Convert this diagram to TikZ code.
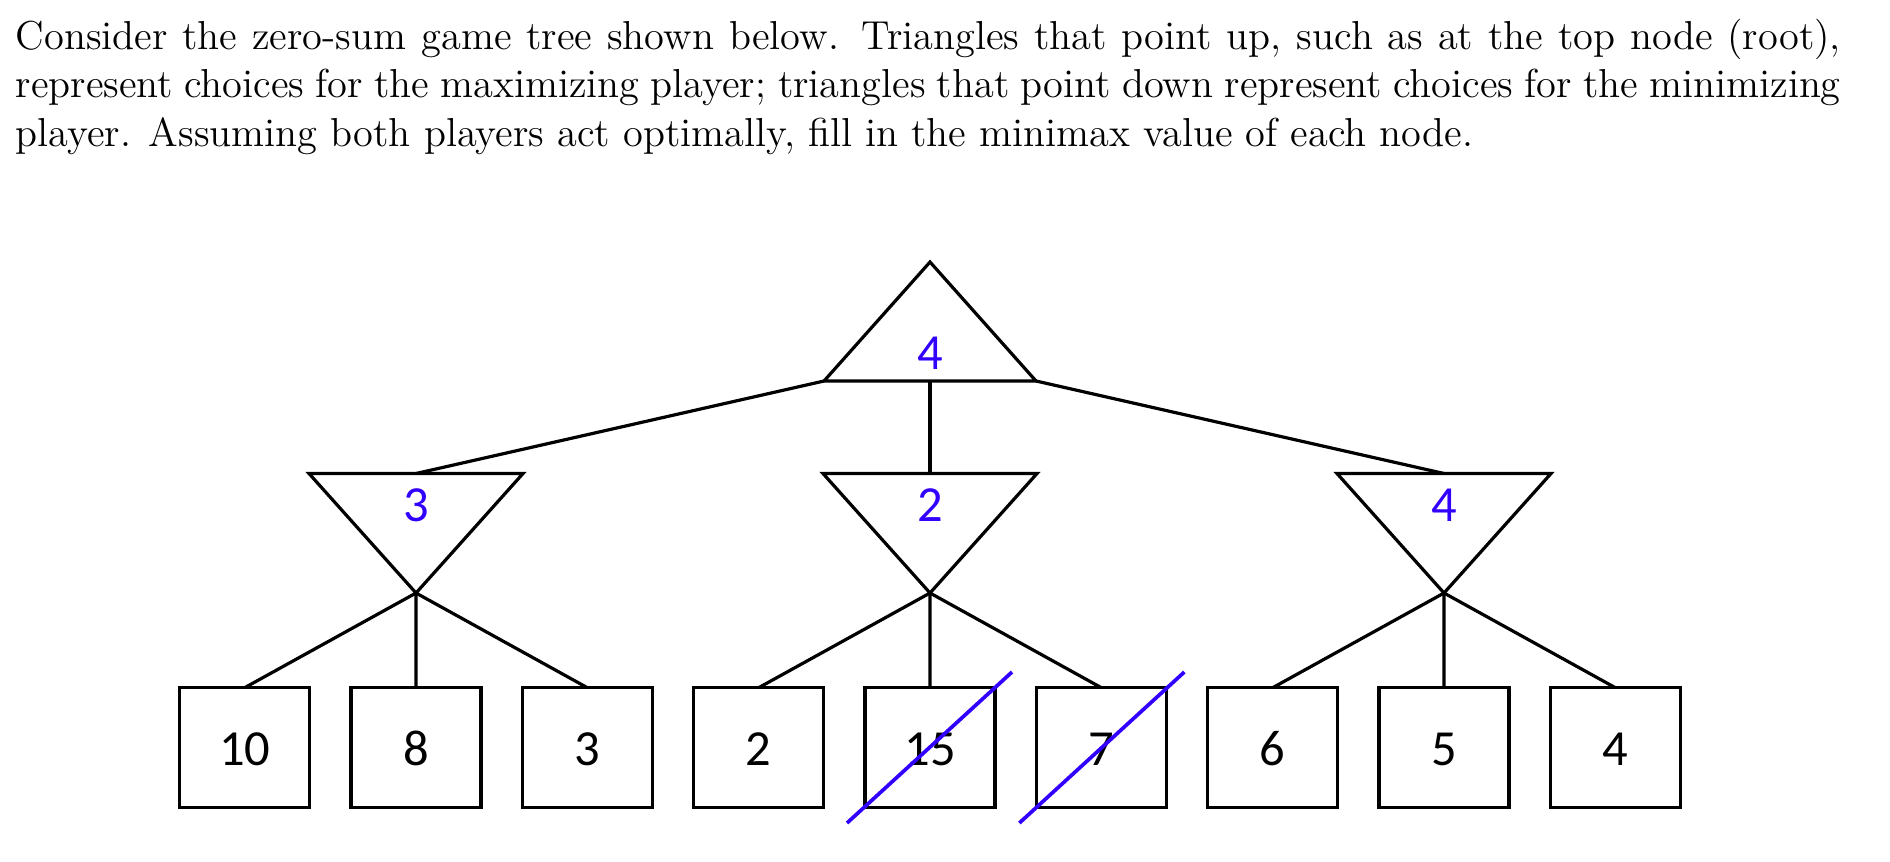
\documentclass[tikz,border=0pt]{standalone}
\usepackage{fontspec}
\newfontfamily\treefont{Carlito}
\usetikzlibrary{calc}
\definecolor{ansblue}{RGB}{50,0,255}
\tikzset{
  treeline/.style={line width=0.95pt, black, line join=miter},
  leafbox/.style={draw, treeline, minimum width=38.6pt, minimum height=35.5pt, inner sep=0pt, outer sep=0pt},
  leaftext/.style={font=\treefont\fontsize{15}{17}\selectfont, anchor=base, inner sep=0pt},
  valtext/.style={font=\treefont\fontsize{15}{17}\selectfont, anchor=base, inner sep=0pt, text=ansblue},
  crossline/.style={draw=ansblue, line width=1.1pt},
  prose/.style={font=\fontsize{12}{14.5}\selectfont, anchor=base west, inner sep=0pt}
}
\begin{document}
\begin{tikzpicture}[x=0.2968pt, y=-0.2968pt]
\useasboundingbox (0,0) rectangle (1890,861);
% question text
\node[prose] (l1) at (15,49) {\makebox[541.7pt][s]{Consider the zero-sum game tree shown below. Triangles that point up, such as at the top node (root),}};
\node[prose] (l2) at (15,97.7) {\makebox[541.7pt][s]{represent choices for the maximizing player; triangles that point down represent choices for the minimizing}};
\node[prose] (l3) at (15,146.6) {player. Assuming both players act optimally, fill in the minimax value of each node.};
% root (max) triangle
\coordinate (rA) at (930,262);
\coordinate (rL) at (824,381);
\coordinate (rR) at (1036,381);
\coordinate (rB) at (930,381);
\draw[treeline] (rA) -- (rR) -- (rL) -- cycle;
\node[valtext] (rv) at (930,369) {4};
% min triangles
\foreach \n/\x in {1/416, 2/930, 3/1444} {
  \coordinate (m\n L) at (\x-107,473.5);
  \coordinate (m\n R) at (\x+107,473.5);
  \coordinate (m\n T) at (\x,473.5);
  \coordinate (m\n B) at (\x,593);
  \draw[treeline] (m\n L) -- (m\n R) -- (m\n B) -- cycle;
}
\node[valtext] (m1v) at (416,521) {3};
\node[valtext] (m2v) at (930,521) {2};
\node[valtext] (m3v) at (1444,521) {4};
% root to min connectors
\draw[treeline] (rL) -- (m1T);
\draw[treeline] (rB) -- (m2T);
\draw[treeline] (rR) -- (m3T);
% leaves
\foreach \k/\v in {1/10, 2/8, 3/3, 4/2, 5/15, 6/7, 7/6, 8/5, 9/4} {
  \node[leafbox] (b\k) at ({244.67+171.333*(\k-1)},747.5) {};
  \node[leaftext] (t\k) at ({244.67+171.333*(\k-1)},765) {\v};
}
% min to leaf connectors
\foreach \k in {1,2,3} { \draw[treeline] (m1B) -- (b\k.north); }
\foreach \k in {4,5,6} { \draw[treeline] (m2B) -- (b\k.north); }
\foreach \k in {7,8,9} { \draw[treeline] (m3B) -- (b\k.north); }
% pruned leaves
\coordinate (c5a) at ($(b5.center)+(-83,75.5)$);
\coordinate (c5b) at ($(b5.center)+(82,-75.5)$);
\coordinate (c6a) at ($(b6.center)+(-82,75.5)$);
\coordinate (c6b) at ($(b6.center)+(83,-75.5)$);
\draw[crossline] (c5a) -- (c5b);
\draw[crossline] (c6a) -- (c6b);
\end{tikzpicture}
\end{document}
